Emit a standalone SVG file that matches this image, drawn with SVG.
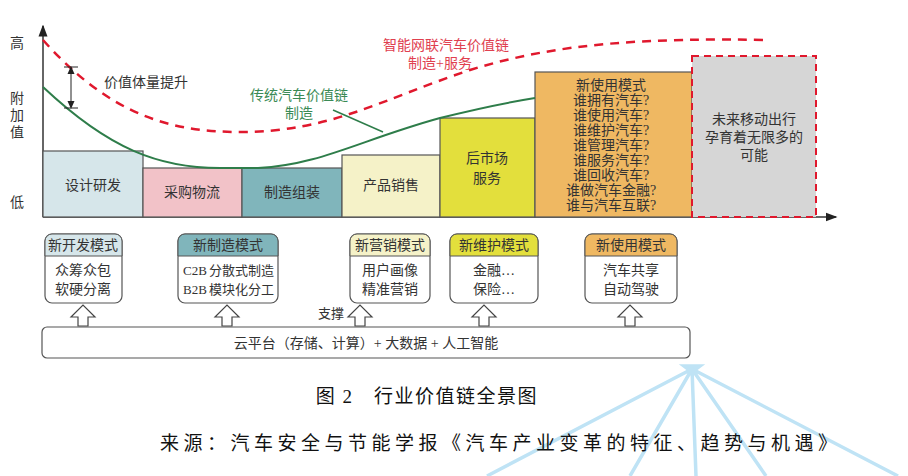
<svg xmlns="http://www.w3.org/2000/svg" width="908" height="476" viewBox="0 0 908 476">
<style>
text{font-family:"Liberation Serif","Noto Sans CJK SC",serif;fill:#333;font-size:14px}
.b{stroke:#555;stroke-width:1.2}
.t{text-anchor:middle}
.hb{fill:#fff;stroke:#555;stroke-width:1.2}
.up{fill:#fff;stroke:#444;stroke-width:1.2}
.g{fill:#3a8a55}
.r{fill:#e0404f}
.s{font-size:13px}
.cap{font-size:19px;fill:#111}
</style>
<defs>
<marker id="ah" markerWidth="8" markerHeight="8" refX="7" refY="4" orient="auto"><path d="M0,1 L8,4 L0,7Z" fill="#222"/></marker>
<marker id="sa" markerWidth="8" markerHeight="8" refX="4" refY="4" orient="auto-start-reverse"><path d="M0,0.5 L8,4 L0,7.5Z" fill="#222"/></marker>
</defs>
<rect width="908" height="476" fill="#fff"/>
<g id="fan" stroke="#bfe3f5" stroke-width="3.5" fill="none">
<path d="M692,369 L487,476 M692,369 L630,476 M692,369 L696,476 M692,369 L766,476 M692,369 L898,476"/>
<path d="M684,366 L700,366 L692,372Z" fill="#bfe3f5"/>
</g>
<g id="axes" stroke="#333" stroke-width="1.5" fill="none">
<path d="M43,217 L43,26" marker-end="url(#ah)"/>
<path d="M43,217 L836,217" marker-end="url(#ah)"/>
</g>
<text x="10" y="48">高</text>
<text x="10" y="103">附</text>
<text x="10" y="120">加</text>
<text x="10" y="137">值</text>
<text x="10" y="207">低</text>
<g id="n1"><rect x="43" y="151" width="100" height="66" fill="#d6e6ea" class="b"/><text x="93" y="190" class="t">设计研发</text></g>
<g id="n2"><rect x="143" y="168" width="99" height="49" fill="#f2c2c8" class="b"/><text x="192" y="197" class="t">采购物流</text></g>
<g id="n3"><rect x="242" y="168" width="100" height="49" fill="#80b5bb" class="b"/><text x="292" y="197" class="t">制造组装</text></g>
<g id="n4"><rect x="342" y="155" width="98" height="62" fill="#f5f2c8" class="b"/><text x="391" y="190" class="t">产品销售</text></g>
<g id="n5"><rect x="440" y="118" width="95" height="99" fill="#e3df3c" class="b"/><text x="487" y="163" class="t">后市场</text><text x="487" y="183" class="t">服务</text></g>
<g id="n6"><rect x="535" y="72" width="157" height="145" fill="#efb862" class="b"/>
<text class="t"><tspan x="611" y="90">新使用模式</tspan><tspan x="611" y="105">谁拥有汽车?</tspan><tspan x="611" y="120">谁使用汽车?</tspan><tspan x="611" y="135">谁维护汽车?</tspan><tspan x="611" y="150">谁管理汽车?</tspan><tspan x="611" y="165">谁服务汽车?</tspan><tspan x="611" y="180">谁回收汽车?</tspan><tspan x="611" y="195">谁做汽车金融?</tspan><tspan x="611" y="210">谁与汽车互联?</tspan></text></g>
<g id="n7"><rect x="692" y="56" width="124" height="161" fill="#d6d6d6" stroke="#e0182d" stroke-width="2" stroke-dasharray="7,5"/>
<text class="t"><tspan x="754" y="124">未来移动出行</tspan><tspan x="754" y="142">孕育着无限多的</tspan><tspan x="754" y="160">可能</tspan></text></g>
<g id="curves" fill="none">
<path d="M43,40 C110,115 170,132 240,132 C330,132 380,100 470,70 C560,42 650,38 770,40" stroke="#e0182d" stroke-width="2.5" stroke-dasharray="9,7"/>
<path d="M43,87 C110,150 160,168 220,168 L258,168 C320,165 360,140 440,118 C480,108 510,102 535,98" stroke="#2e7d4a" stroke-width="2"/>
<path d="M333,110 L383,132" stroke="#2e7d4a" stroke-width="1.5"/>
<path d="M64,67 L78,67 M64,108 L78,108" stroke="#222" stroke-width="1"/>
<path d="M71,70 L71,105" stroke="#222" stroke-width="1" marker-start="url(#sa)" marker-end="url(#sa)"/>
</g>
<text x="104" y="87">价值体量提升</text>
<text x="250" y="100" class="g">传统汽车价值链</text>
<text x="285" y="118" class="g">制造</text>
<text x="383" y="50" class="r">智能网联汽车价值链</text>
<text x="408" y="68" class="r">制造+服务</text>
<g id="m1"><rect x="45" y="234" width="77" height="69" rx="7" class="hb"/><path d="M45,256 V241 a7,7 0 0 1 7,-7 H115 a7,7 0 0 1 7,7 V256Z" fill="#d6e6ea" stroke="#555"/>
<text x="83" y="250" class="t">新开发模式</text><text x="83" y="275" class="t">众筹众包</text><text x="83" y="294" class="t">软硬分离</text></g>
<g id="m2"><rect x="178" y="234" width="100" height="69" rx="7" class="hb"/><path d="M178,256 V241 a7,7 0 0 1 7,-7 H271 a7,7 0 0 1 7,7 V256Z" fill="#80b5bb" stroke="#555"/>
<text x="228" y="250" class="t">新制造模式</text><text x="183" y="275" class="s">C2B</text><text x="209" y="275" class="s">分散式制造</text><text x="183" y="294" class="s">B2B</text><text x="209" y="294" class="s">模块化分工</text></g>
<g id="m3"><rect x="350" y="234" width="80" height="69" rx="7" class="hb"/><path d="M350,256 V241 a7,7 0 0 1 7,-7 H423 a7,7 0 0 1 7,7 V256Z" fill="#f5f2c8" stroke="#555"/>
<text x="390" y="250" class="t">新营销模式</text><text x="390" y="275" class="t">用户画像</text><text x="390" y="294" class="t">精准营销</text></g>
<g id="m4"><rect x="450" y="234" width="88" height="69" rx="7" class="hb"/><path d="M450,256 V241 a7,7 0 0 1 7,-7 H531 a7,7 0 0 1 7,7 V256Z" fill="#e3df3c" stroke="#555"/>
<text x="494" y="250" class="t">新维护模式</text><text x="494" y="275" class="t">金融…</text><text x="494" y="294" class="t">保险…</text></g>
<g id="m5"><rect x="585" y="234" width="92" height="69" rx="7" class="hb"/><path d="M585,256 V241 a7,7 0 0 1 7,-7 H670 a7,7 0 0 1 7,7 V256Z" fill="#efb862" stroke="#555"/>
<text x="631" y="250" class="t">新使用模式</text><text x="631" y="275" class="t">汽车共享</text><text x="631" y="294" class="t">自动驾驶</text></g>
<g id="arrows">
<path class="up" d="M78,326 V317 H71 L83,305 L95,317 H88 V326Z"/>
<path class="up" d="M222,326 V317 H215 L227,305 L239,317 H232 V326Z"/>
<path class="up" d="M355,326 V317 H348 L360,305 L372,317 H365 V326Z"/>
<path class="up" d="M479,326 V317 H472 L484,305 L496,317 H489 V326Z"/>
<path class="up" d="M625,326 V317 H618 L630,305 L642,317 H635 V326Z"/>
</g>
<text x="318" y="318" class="s">支撑</text>
<g id="platform"><rect x="42" y="327" width="648" height="31" rx="5" class="hb"/><text x="366" y="348" class="t">云平台（存储、计算）+ 大数据 + 人工智能</text></g>
<text x="427" y="403" class="t cap" letter-spacing="1.5">图 2　行业价值链全景图</text>
<text x="160" y="450" class="cap" letter-spacing="4.5">来源：汽车安全与节能学报《汽车产业变革的特征、趋势与机遇》</text>
</svg>
